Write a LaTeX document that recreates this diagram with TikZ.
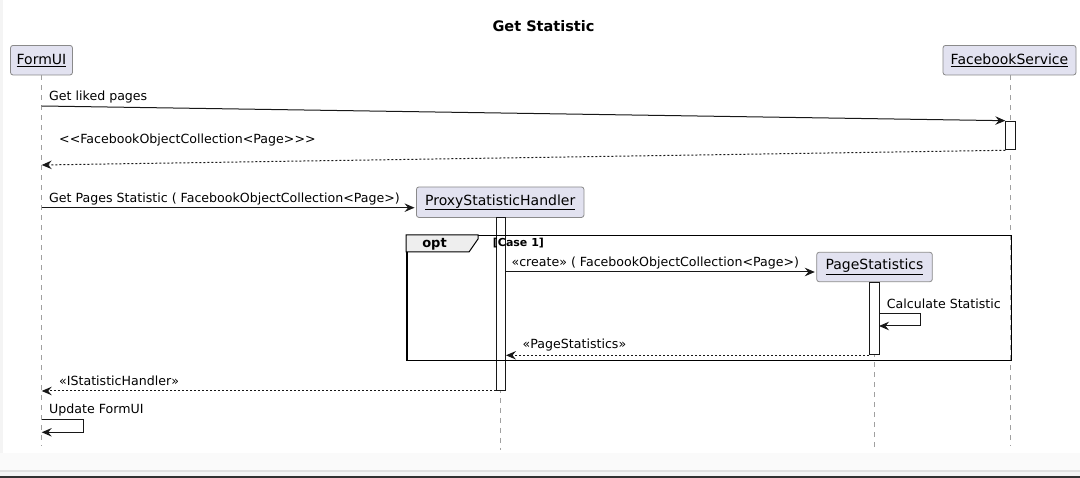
\documentclass[tikz,border=0pt]{standalone}
\usepackage{fontspec}
\setmainfont{DejaVu Sans}
\usetikzlibrary{arrows.meta,calc}
\definecolor{partfill}{HTML}{E2E2F0}
\definecolor{partdraw}{HTML}{8A8A8A}
\definecolor{ink}{HTML}{181818}
\definecolor{lifegray}{HTML}{A0A0A0}
\definecolor{tabfill}{HTML}{EEEEEE}
\definecolor{bandA}{HTML}{FAFAFA}
\definecolor{bandB}{HTML}{E0E0E0}
\definecolor{bandC}{HTML}{F4F4F4}
\definecolor{bandD}{HTML}{303030}
\begin{document}
\begin{tikzpicture}[x=1pt,y=-1pt,
  part/.style={draw=partdraw, line width=0.8pt, fill=partfill, rounded corners=2.5pt, inner sep=0pt, font=\fontsize{14}{16}\selectfont, text=black},
  actbox/.style={draw=ink, fill=white, line width=1pt, inner sep=0pt, minimum width=10pt, anchor=north west},
  lifeline/.style={draw=lifegray, line width=1pt, dash pattern=on 5pt off 5pt},
  msg/.style={draw=ink, line width=1pt, -{Stealth[length=10pt,width=8.5pt,inset=3.5pt]}},
  ret/.style={msg, dash pattern=on 2pt off 2pt},
  lbl/.style={anchor=base west, inner sep=0pt, font=\fontsize{12.6}{15}\selectfont, text=black},
]
\useasboundingbox (0,0) rectangle (1080,478);
\fill[white] (0,0) rectangle (1080,478);
\fill[bandC] (0,0) rectangle (3,478);
\fill[bandA] (0,453) rectangle (1080,478);
\fill[bandB] (0,470.5) rectangle (1080,472.5);
\fill[bandC] (0,472.5) rectangle (1080,476.5);
\fill[bandD] (0,476.5) rectangle (1080,478);

% title
\node[font=\bfseries\fontsize{14.5}{17}\selectfont, inner sep=0pt] (title) at (543.5,26) {Get Statistic};

% participants
\node[part, minimum width=62pt, minimum height=29.5pt] (fu) at (41.5,60.2) {\underline{FormUI}};
\node[part, minimum width=133pt, minimum height=29.5pt] (fs) at (1009.5,60.2) {\underline{FacebookService}};
\node[part, minimum width=167.5pt, minimum height=30.5pt] (px) at (500.2,202.2) {\underline{ProxyStatisticHandler}};
\node[part, minimum width=115.6pt, minimum height=29.4pt] (ps) at (874.5,267) {\underline{PageStatistics}};

% lifeline ends
\coordinate (fuend) at (41.7,446);
\coordinate (fsend) at (1010.3,446);
\coordinate (pxend) at (500.3,450);
\coordinate (psend) at (874,450);
\draw[lifeline] (fu.south -| fuend) -- (fuend);
\draw[lifeline] (fs.south -| fsend) -- (fsend);
\draw[lifeline] (px.south -| pxend) -- (pxend);
\draw[lifeline] (ps.south -| psend) -- (psend);

% activations
\node[actbox, minimum height=28.6pt] (fsact) at (1005.3,120.7) {};
\node[actbox, minimum height=172.5pt, minimum width=9.4pt] (pxact) at (495.6,217.5) {};
\node[actbox, minimum height=72pt] (psact) at (869,282.3) {};

% opt frame
\node[draw=black, line width=1.5pt, inner sep=0pt, minimum width=604.7pt, minimum height=125pt, anchor=north west] (optframe) at (406,235) {};
\draw[fill=tabfill, draw=black, line width=1pt] (optframe.north west) -- ++(72,0) -- ++(0,4) -- ++(-9,13) -- ++(-63,0) -- cycle;
\node[font=\bfseries\fontsize{13}{15}\selectfont, inner sep=0pt] (optlbl) at (434.5,243.8) {opt};
\node[font=\bfseries\fontsize{11}{13}\selectfont, inner sep=0pt, anchor=west] (guard) at (492.7,243.5) {[Case 1]};

% 1 Get liked pages
\coordinate (m1a) at (41.7,106);
\draw[msg] (m1a) -- (fsact.north west);
\node[lbl] (l1) at (49,100.6) {Get liked pages};

% 2 return
\coordinate (m2b) at (41.7,165);
\draw[ret] (fsact.south west) -- (m2b);
\node[lbl] (l2) at (59,144) {<\kern0pt<FacebookObjectCollection<Page>\kern0pt>\kern0pt>};

% 3 Get Pages Statistic
\coordinate (m3a) at (41.7,207.7);
\draw[msg, shorten >=1.5pt] (m3a) -- (m3a -| px.west);
\node[lbl] (l3) at (49,202.3) {Get Pages Statistic ( FacebookObjectCollection<Page>)};

% 4 create
\coordinate (m4a) at (505,272);
\draw[msg, shorten >=1.5pt] (m4a) -- (m4a -| ps.west);
\node[lbl] (l4) at (511.4,266.6) {«create» ( FacebookObjectCollection<Page>)};

% 5 Calculate Statistic (self)
\coordinate (c5a) at (879,313.3);
\coordinate (c5b) at (879,326);
\draw[msg] (c5a) -- ++(41.3,0) |- (c5b);
\node[lbl] (l5) at (886.7,308.6) {Calculate Statistic};

% 6 PageStatistics return
\draw[ret] (psact.south west) -- (psact.south west -| pxact.east);
\node[lbl] (l6) at (522.5,348.8) {«PageStatistics»};

% 7 IStatisticHandler return
\draw[ret] (pxact.south west) -- (pxact.south west -| fuend);
\node[lbl] (l7) at (59,385.2) {«IStatisticHandler»};

% 8 Update FormUI (self)
\coordinate (c8a) at (41.7,419.3);
\coordinate (c8b) at (41.7,432.3);
\draw[msg] (c8a) -- ++(41.6,0) |- (c8b);
\node[lbl] (l8) at (49,413.5) {Update FormUI};
\end{tikzpicture}
\end{document}
